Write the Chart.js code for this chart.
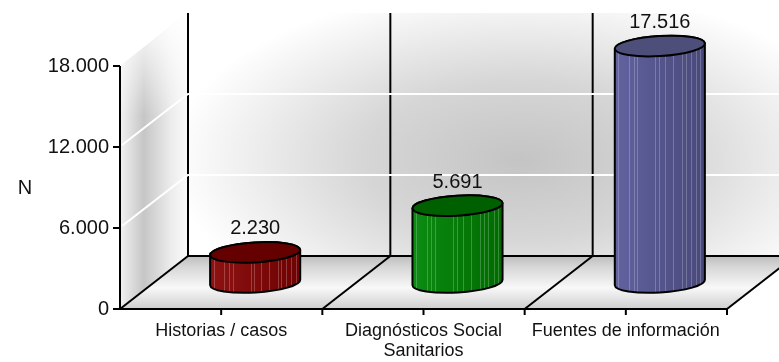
<!DOCTYPE html>
<html><head><meta charset="utf-8">
<script src="https://cdn.jsdelivr.net/npm/chart.js@4/dist/chart.umd.min.js"></script>
<style>html,body{margin:0;padding:0;background:#fff}#wrap{width:779px;height:362px;position:relative}</style>
</head><body><div id="wrap"><canvas id="c" width="779" height="362"></canvas></div>
<script>
// ---- data ----
const categories = ["Historias / casos", ["Diagnósticos Social", "Sanitarios"], "Fuentes de información"];
const values = [2230, 5691, 17516];
const yTicks = [0, 6000, 12000, 18000];
const axisTitle = "N";

// ---- styles ----
const sideLight = ["#8e1212", "#0c8c12", "#6262a0"];
const sideDark  = ["#6e0202", "#006a00", "#48487a"];
const topColors = ["#640000", "#006000", "#4e4e7a"];
const STRIPES = [0.04, 0.16, 0.21, 0.25, 0.45, 0.49, 0.56, 0.65, 0.75, 0.79, 0.84, 0.90, 0.95];
const FONT = "'Liberation Sans', Arial, sans-serif";
const DX = 68, DY = 53, RY = 10, ROT = -0.06;

function fmt(v) { return String(v).replace(/\B(?=(\d{3})+(?!\d))/g, '.'); }

function sidePath(ctx, cx, topY, botY, rx, ry, rot) {
  const c = Math.cos(rot), s = Math.sin(rot);
  ctx.beginPath();
  ctx.moveTo(cx - rx * c, topY - rx * s);
  ctx.lineTo(cx - rx * c, botY - rx * s);
  ctx.ellipse(cx, botY, rx, ry, rot, Math.PI, 0, true);
  ctx.lineTo(cx + rx * c, topY + rx * s);
  ctx.ellipse(cx, topY, rx, ry, rot, 0, Math.PI, true);
  ctx.closePath();
}

function cylinder(ctx, cx, topY, botY, rx, ry, rot, s1, s2, topC) {
  ctx.save();
  ctx.lineWidth = 2; ctx.strokeStyle = '#000'; ctx.lineJoin = 'round';
  sidePath(ctx, cx, topY, botY, rx, ry, rot);
  const g = ctx.createLinearGradient(cx - rx, 0, cx + rx, 0);
  g.addColorStop(0, s1); g.addColorStop(1, s2);
  ctx.fillStyle = g; ctx.fill();
  ctx.save(); ctx.clip();
  ctx.strokeStyle = 'rgba(255,255,255,0.22)'; ctx.lineWidth = 1;
  for (const f of STRIPES) {
    const xx = Math.round(cx - rx + f * 2 * rx) + 0.5;
    ctx.beginPath(); ctx.moveTo(xx, topY - ry - 10); ctx.lineTo(xx, botY + ry + 5); ctx.stroke();
  }
  ctx.restore();
  sidePath(ctx, cx, topY, botY, rx, ry, rot);
  ctx.stroke();
  ctx.beginPath(); ctx.ellipse(cx, topY, rx, ry, rot, 0, Math.PI * 2);
  ctx.fillStyle = topC; ctx.fill(); ctx.stroke();
  ctx.restore();
}

const threeD = {
  id: 'threeD',
  beforeDatasetsDraw(chart) {
    const ctx = chart.ctx, xs = chart.scales.x, ys = chart.scales.y;
    const L = xs.left, R = xs.right;
    const B = ys.getPixelForValue(yTicks[0]);
    const T = ys.getPixelForValue(yTicks[yTicks.length - 1]);
    const n = categories.length, cw = (R - L) / n;
    ctx.save();
    // back wall
    ctx.save();
    ctx.beginPath(); ctx.rect(L + DX, T - DY, (R - L) + 10, B - T); ctx.clip();
    ctx.fillStyle = '#fff'; ctx.fillRect(L + DX, T - DY, (R - L) + 10, B - T);
    ctx.translate(520, 160); ctx.scale(2.0, 1);
    const rg = ctx.createRadialGradient(0, 0, 0, 0, 0, 175);
    rg.addColorStop(0, '#c4c4c4'); rg.addColorStop(0.45, '#d6d6d6'); rg.addColorStop(1, '#ffffff');
    ctx.fillStyle = rg; ctx.fillRect(-500, -400, 1000, 800);
    ctx.restore();
    // left wall
    ctx.save();
    ctx.beginPath();
    ctx.moveTo(L, T); ctx.lineTo(L + DX, T - DY); ctx.lineTo(L + DX, B - DY); ctx.lineTo(L, B); ctx.closePath();
    ctx.clip();
    const lg = ctx.createLinearGradient(L, 0, L + DX, 0);
    lg.addColorStop(0, '#f2f2f2'); lg.addColorStop(0.35, '#c6c6c6'); lg.addColorStop(0.75, '#ececec'); lg.addColorStop(1, '#fbfbfb');
    ctx.fillStyle = lg; ctx.fillRect(L, T - DY, DX, B - T + DY);
    const vg = ctx.createLinearGradient(0, T - DY, 0, T + 50);
    vg.addColorStop(0, 'rgba(255,255,255,1)'); vg.addColorStop(1, 'rgba(255,255,255,0)');
    ctx.fillStyle = vg; ctx.fillRect(L, T - DY, DX, 110);
    ctx.restore();
    // back vertical lines
    ctx.strokeStyle = '#000'; ctx.lineWidth = 2;
    for (let i = 0; i <= n; i++) {
      const bx = L + i * cw + DX;
      ctx.beginPath(); ctx.moveTo(bx, T - DY); ctx.lineTo(bx, B - DY); ctx.stroke();
    }
    // white grid lines
    ctx.strokeStyle = '#fff'; ctx.lineWidth = 2;
    for (const v of yTicks) {
      if (v === yTicks[0] || v === yTicks[yTicks.length - 1]) continue;
      const py = ys.getPixelForValue(v);
      ctx.beginPath(); ctx.moveTo(L + 2, py - 2); ctx.lineTo(L + DX, py - DY); ctx.lineTo(R + DX + 20, py - DY); ctx.stroke();
    }
    // floor
    ctx.beginPath();
    ctx.moveTo(L, B); ctx.lineTo(R, B); ctx.lineTo(R + DX, B - DY); ctx.lineTo(L + DX, B - DY); ctx.closePath();
    const fg = ctx.createLinearGradient(0, B - DY, 0, B);
    fg.addColorStop(0, '#bdbdbd'); fg.addColorStop(0.2, '#d6d6d6'); fg.addColorStop(0.6, '#f8f8f8'); fg.addColorStop(1, '#cfcfcf');
    ctx.fillStyle = fg; ctx.fill();
    ctx.strokeStyle = '#000'; ctx.lineWidth = 2;
    ctx.beginPath(); ctx.moveTo(L + DX, B - DY); ctx.lineTo(R + DX + 20, B - DY); ctx.stroke();
    for (let i = 0; i <= n; i++) {
      const fx = L + i * cw;
      ctx.beginPath(); ctx.moveTo(fx, B); ctx.lineTo(fx + DX, B - DY); ctx.stroke();
    }
    // front axes
    ctx.beginPath(); ctx.moveTo(L, T); ctx.lineTo(L, B); ctx.lineTo(R, B); ctx.stroke();
    // y ticks
    for (const v of yTicks) {
      const py = ys.getPixelForValue(v);
      ctx.beginPath(); ctx.moveTo(L - 7, py); ctx.lineTo(L, py); ctx.stroke();
    }
    // x ticks (boundaries and centers)
    for (let i = 1; i <= 2 * n; i++) {
      const px = L + i * cw / 2;
      ctx.beginPath(); ctx.moveTo(px, B); ctx.lineTo(px, B + 6); ctx.stroke();
    }
    // axis title
    ctx.fillStyle = '#111'; ctx.font = '20px ' + FONT; ctx.textAlign = 'center'; ctx.textBaseline = 'middle';
    ctx.fillText(axisTitle, 25, (T + B) / 2 + 1);
    ctx.restore();
  },
  afterDatasetsDraw(chart) {
    const ctx = chart.ctx;
    const meta = chart.getDatasetMeta(0);
    meta.data.forEach((el, i) => {
      const cx = el.x + DX / 2, topY = el.y - DY / 2, botY = el.base - DY / 2, rx = el.width / 2;
      cylinder(ctx, cx, topY, botY, rx, RY, ROT, sideLight[i], sideDark[i], topColors[i]);
      ctx.save();
      ctx.fillStyle = '#111'; ctx.font = '20px ' + FONT; ctx.textAlign = 'center'; ctx.textBaseline = 'alphabetic';
      ctx.fillText(fmt(values[i]), cx, topY - RY - 8);
      ctx.restore();
    });
  }
};

new Chart(document.getElementById('c'), {
  type: 'bar',
  data: { labels: categories, datasets: [{ data: values, backgroundColor: 'rgba(0,0,0,0)', borderWidth: 0,
    categoryPercentage: 1, barPercentage: 0.446 }] },
  options: {
    responsive: false, animation: false,
    layout: { padding: { top: 66, right: 52, left: 0, bottom: 0 } },
    plugins: { legend: { display: false }, tooltip: { enabled: false } },
    scales: {
      x: {
        grid: { display: false, drawTicks: false, tickLength: 0 }, border: { display: false },
        ticks: { color: '#111', font: { family: FONT, size: 18, lineHeight: 1.1 }, padding: 12, maxRotation: 0, autoSkip: false },
        afterFit(s) { s.height = 53; }
      },
      y: {
        min: yTicks[0], max: yTicks[yTicks.length - 1],
        grid: { display: false, drawTicks: false, tickLength: 0 }, border: { display: false },
        afterBuildTicks(s) { s.ticks = yTicks.map(v => ({ value: v })); },
        ticks: { color: '#111', font: { family: FONT, size: 20 }, padding: 11, callback: v => fmt(v) },
        afterFit(s) { s.width = 120; }
      }
    }
  },
  plugins: [threeD]
});
</script></body></html>
